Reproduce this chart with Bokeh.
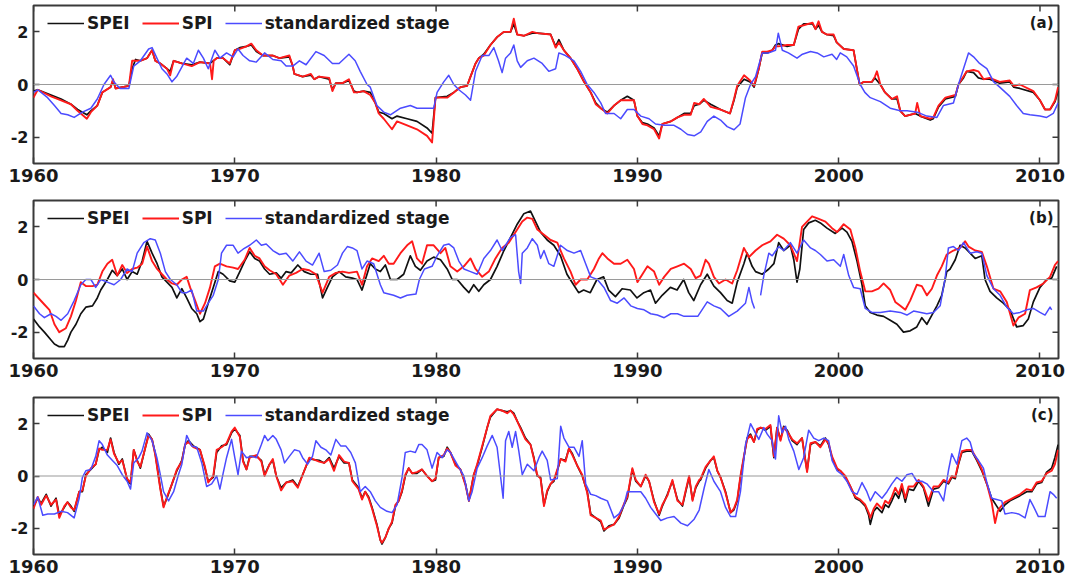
import numpy as np
from bokeh.plotting import figure
from bokeh.models import (Range1d, Span, Legend, LegendItem,
                          FixedTicker, Label, ColumnDataSource)
from bokeh.layouts import column
from bokeh.embed import file_html
from bokeh.resources import INLINE

NAN = float("nan")

# ---- axis ticks -----------------------------------------------------------
X_TICKS = [1960, 1970, 1980, 1990, 2000, 2010]
Y_TICKS = [-2, 0, 2]
X_START, X_END = 1960.0, 2010.92
Y_START, Y_END = -3.0, 3.0

# ---- panel (a): (decimal year, index value) -------------------------------
A_SPEI = [(1960.00,-0.25),(1960.21,-0.20),(1960.87,-0.40),(1961.37,-0.55),(1961.86,-0.75),(1962.19,-0.95),(1962.65,-1.15),(1962.85,-1.00),(1963.17,-0.80),(1963.42,-0.30),(1963.83,-0.10),(1963.95,0.15),(1964.08,-0.15),(1964.74,-0.05),(1964.90,0.60),(1965.07,0.95),(1965.31,0.90),(1965.64,1.00),(1965.89,1.30),(1966.05,0.90),(1966.30,0.80),(1966.63,0.60),(1966.79,0.50),(1966.96,0.90),(1967.37,0.80),(1967.86,0.75),(1968.27,0.85),(1968.77,0.80),(1969.10,1.00),(1969.42,1.00),(1969.75,0.75),(1970.00,1.30),(1970.25,1.40),(1970.58,1.45),(1970.82,1.50),(1971.07,1.25),(1971.40,1.10),(1971.89,1.10),(1972.22,1.00),(1972.71,1.05),(1972.88,0.70),(1972.96,0.40),(1973.37,0.30),(1973.78,0.35),(1973.95,0.20),(1974.19,0.30),(1974.69,0.20),(1974.85,-0.20),(1975.02,0.05),(1975.35,0.05),(1975.67,0.15),(1975.92,-0.25),(1976.07,-0.30),(1976.40,-0.25),(1976.73,-0.30),(1976.98,-0.70),(1977.15,-1.05),(1977.40,-1.10),(1977.81,-1.30),(1978.06,-1.20),(1978.56,-1.30),(1979.05,-1.40),(1979.55,-1.65),(1979.80,-1.85),(1979.97,-0.50),(1980.55,-0.45),(1980.88,-0.30),(1981.21,-0.10),(1981.54,-0.05),(1981.71,0.30),(1981.96,0.80),(1982.12,1.00),(1982.37,1.15),(1982.70,1.50),(1983.03,1.80),(1983.37,2.00),(1983.70,2.00),(1983.86,2.30),(1984.03,1.90),(1984.36,1.85),(1984.78,1.95),(1985.02,1.95),(1985.69,1.90),(1985.94,1.45),(1986.10,1.70),(1986.35,1.30),(1986.68,1.00),(1987.01,0.60),(1987.35,0.10),(1987.68,-0.30),(1987.93,-0.70),(1988.18,-0.90),(1988.51,-1.05),(1988.84,-0.80),(1989.17,-0.60),(1989.50,-0.45),(1989.83,-0.60),(1990.00,-1.20),(1990.25,-1.45),(1990.50,-1.50),(1990.83,-1.65),(1991.08,-1.95),(1991.24,-1.50),(1991.66,-1.40),(1991.99,-1.25),(1992.32,-1.10),(1992.65,-1.10),(1992.82,-0.80),(1993.07,-0.75),(1993.30,-0.60),(1993.64,-0.75),(1994.13,-0.95),(1994.60,-1.10),(1994.80,-0.60),(1994.96,-0.10),(1995.30,0.20),(1995.60,0.10),(1995.80,-0.10),(1996.03,0.60),(1996.20,1.20),(1996.45,1.20),(1996.70,1.30),(1996.86,1.50),(1997.00,1.55),(1997.44,1.45),(1997.77,1.50),(1998.00,2.10),(1998.26,2.30),(1998.70,2.30),(1998.85,2.10),(1999.00,2.25),(1999.17,2.00),(1999.40,1.90),(1999.75,1.85),(1999.90,1.60),(2000.25,1.35),(2000.74,1.30),(2000.90,0.60),(2001.04,0.00),(2001.24,0.10),(2001.65,0.10),(2001.80,0.25),(2002.07,0.00),(2002.30,-0.30),(2002.64,-0.55),(2002.90,-0.55),(2003.06,-1.00),(2003.30,-1.20),(2003.80,-1.10),(2004.05,-1.20),(2004.55,-1.35),(2004.70,-1.30),(2004.96,-0.85),(2005.30,-0.55),(2005.80,-0.45),(2005.95,0.00),(2006.20,0.25),(2006.36,0.50),(2006.70,0.45),(2006.94,0.25),(2007.20,0.20),(2007.50,0.20),(2008.00,0.05),(2008.50,0.10),(2008.70,-0.10),(2009.00,-0.15),(2009.67,-0.30),(2010.00,-0.60),(2010.25,-0.95),(2010.50,-0.95),(2010.75,-0.65),(2010.90,-0.25)]

A_SPI = [(1960.00,-0.50),(1960.21,-0.20),(1960.87,-0.45),(1961.37,-0.60),(1961.86,-0.75),(1962.19,-1.00),(1962.65,-1.30),(1962.85,-1.05),(1963.17,-0.80),(1963.42,-0.30),(1963.83,-0.10),(1963.95,0.20),(1964.08,-0.15),(1964.74,-0.05),(1964.90,0.90),(1965.07,0.90),(1965.31,0.90),(1965.64,1.00),(1965.89,1.30),(1966.05,0.90),(1966.30,0.80),(1966.63,0.60),(1966.79,0.35),(1966.96,0.90),(1967.37,0.80),(1967.86,0.70),(1968.27,0.85),(1968.77,0.80),(1968.87,0.20),(1968.95,0.90),(1969.10,1.00),(1969.42,1.00),(1969.75,0.80),(1970.00,1.30),(1970.25,1.35),(1970.58,1.45),(1970.82,1.55),(1971.07,1.30),(1971.40,1.10),(1971.89,1.10),(1972.22,1.00),(1972.71,1.10),(1972.88,0.70),(1972.96,0.40),(1973.37,0.30),(1973.78,0.40),(1973.95,0.20),(1974.19,0.30),(1974.69,0.25),(1974.85,-0.25),(1975.02,0.05),(1975.35,0.05),(1975.67,0.20),(1975.92,-0.30),(1976.07,-0.30),(1976.40,-0.25),(1976.73,-0.40),(1976.98,-0.70),(1977.15,-1.10),(1977.40,-1.30),(1977.81,-1.70),(1978.06,-1.40),(1978.56,-1.55),(1979.05,-1.70),(1979.55,-1.95),(1979.80,-2.20),(1979.97,-0.50),(1980.55,-0.50),(1980.88,-0.30),(1981.21,-0.10),(1981.54,-0.05),(1981.71,0.30),(1981.96,0.80),(1982.12,1.00),(1982.37,1.10),(1982.70,1.50),(1983.03,1.80),(1983.37,2.00),(1983.70,2.00),(1983.86,2.50),(1984.03,1.90),(1984.36,1.85),(1984.78,2.00),(1985.02,1.95),(1985.69,1.90),(1985.94,1.40),(1986.10,1.60),(1986.35,1.30),(1986.68,1.00),(1987.01,0.60),(1987.35,0.10),(1987.68,-0.30),(1987.93,-0.75),(1988.18,-0.90),(1988.51,-1.10),(1988.84,-0.80),(1989.17,-0.60),(1989.50,-0.60),(1989.83,-0.60),(1990.00,-1.20),(1990.25,-1.50),(1990.50,-1.55),(1990.83,-1.70),(1991.08,-2.05),(1991.24,-1.50),(1991.66,-1.40),(1991.99,-1.25),(1992.32,-1.15),(1992.65,-1.15),(1992.82,-0.70),(1993.07,-0.75),(1993.30,-0.55),(1993.64,-0.85),(1994.13,-0.95),(1994.60,-1.10),(1994.80,-0.55),(1994.96,-0.05),(1995.30,0.35),(1995.60,0.15),(1995.80,-0.05),(1996.03,0.60),(1996.20,1.25),(1996.45,1.25),(1996.70,1.30),(1996.86,1.45),(1997.00,1.45),(1997.44,1.50),(1997.77,1.50),(1998.00,2.20),(1998.26,2.25),(1998.70,2.35),(1998.85,2.10),(1999.00,2.40),(1999.17,2.00),(1999.40,1.90),(1999.75,1.90),(1999.90,1.60),(2000.25,1.35),(2000.74,1.30),(2000.90,0.60),(2001.04,0.00),(2001.24,0.10),(2001.65,0.10),(2001.80,0.30),(2001.90,0.50),(2002.07,0.00),(2002.30,-0.30),(2002.64,-0.55),(2002.90,-0.45),(2003.06,-1.00),(2003.30,-1.20),(2003.80,-1.10),(2003.90,-0.70),(2004.05,-1.20),(2004.55,-1.30),(2004.70,-1.25),(2004.96,-0.80),(2005.30,-0.50),(2005.80,-0.40),(2005.95,0.00),(2006.20,0.30),(2006.36,0.50),(2006.70,0.55),(2006.94,0.50),(2007.20,0.20),(2007.50,0.25),(2008.00,0.10),(2008.50,0.15),(2008.70,-0.05),(2009.00,0.00),(2009.67,-0.25),(2010.00,-0.60),(2010.25,-0.95),(2010.50,-0.95),(2010.75,-0.60),(2010.90,-0.10)]

A_STAGE = [(1960.00,-0.30),(1960.21,-0.20),(1960.70,-0.50),(1961.04,-0.80),(1961.37,-1.10),(1961.70,-1.15),(1962.02,-1.25),(1962.43,-1.05),(1962.85,-0.90),(1963.17,-0.55),(1963.50,0.00),(1963.83,0.35),(1963.99,0.10),(1964.30,-0.15),(1964.74,-0.15),(1964.98,0.70),(1965.31,0.90),(1965.72,1.35),(1965.89,1.40),(1966.13,1.00),(1966.38,0.60),(1966.63,0.40),(1966.88,0.10),(1967.11,0.30),(1967.61,1.00),(1967.94,0.80),(1968.19,1.30),(1968.44,1.00),(1968.68,0.60),(1969.01,1.30),(1969.26,1.00),(1969.59,1.20),(1969.92,1.05),(1970.16,1.35),(1970.41,1.10),(1970.74,0.90),(1971.07,0.85),(1971.48,1.20),(1971.89,0.95),(1972.30,0.90),(1972.55,0.70),(1972.88,0.70),(1973.21,0.90),(1973.54,0.75),(1974.03,1.25),(1974.44,1.10),(1974.85,0.80),(1975.18,0.80),(1975.67,1.15),(1975.98,0.90),(1976.23,0.50),(1976.57,0.00),(1976.73,-0.10),(1977.06,-0.80),(1977.40,-1.05),(1977.73,-1.15),(1978.23,-0.90),(1978.72,-0.80),(1979.05,-0.90),(1979.88,-0.90),(1980.05,-0.30),(1980.38,0.10),(1980.63,0.35),(1980.88,0.00),(1981.13,-0.20),(1981.46,-0.40),(1981.71,-0.60),(1981.96,0.50),(1982.29,1.10),(1982.62,1.10),(1982.87,1.40),(1983.10,0.90),(1983.28,0.45),(1983.45,1.00),(1983.70,1.20),(1983.86,1.50),(1984.03,0.90),(1984.20,0.65),(1984.53,0.90),(1984.86,1.00),(1985.27,0.80),(1985.60,0.50),(1985.94,0.60),(1986.10,1.20),(1986.43,1.10),(1986.85,0.90),(1987.18,0.50),(1987.51,0.00),(1987.84,-0.30),(1988.18,-0.70),(1988.42,-1.10),(1988.84,-1.10),(1989.17,-1.30),(1989.50,-0.95),(1989.83,-0.95),(1990.17,-1.20),(1990.58,-1.30),(1990.90,-1.50),(1991.33,-1.55),(1991.82,-1.55),(1992.16,-1.70),(1992.49,-1.90),(1992.82,-1.95),(1993.15,-1.80),(1993.47,-1.40),(1993.80,-1.20),(1994.13,-1.35),(1994.46,-1.60),(1994.80,-1.72),(1995.10,-1.50),(1995.37,-0.50),(1995.62,0.00),(1995.87,0.30),(1996.20,1.20),(1996.53,1.20),(1996.86,1.30),(1997.00,1.95),(1997.20,1.30),(1997.50,1.20),(1997.93,1.00),(1998.20,1.15),(1998.60,1.25),(1998.93,1.20),(1999.26,1.05),(1999.67,1.15),(1999.90,0.95),(2000.08,1.20),(2000.40,1.05),(2000.74,0.70),(2001.07,0.00),(2001.30,-0.30),(2001.57,-0.50),(2002.07,-0.65),(2002.56,-0.90),(2003.06,-1.00),(2003.40,-1.00),(2003.90,-1.05),(2004.38,-1.20),(2004.88,-1.25),(2005.20,-0.80),(2005.70,-0.70),(2005.95,0.00),(2006.20,0.60),(2006.45,1.20),(2006.70,1.05),(2007.00,0.80),(2007.36,0.60),(2007.70,0.10),(2008.00,-0.10),(2008.50,-0.45),(2008.84,-0.80),(2009.17,-1.10),(2009.50,-1.15),(2010.00,-1.20),(2010.33,-1.25),(2010.66,-1.10),(2010.90,-0.70)]

# ---- panel (b) ------------------------------------------------------------
B_SPEI = [(1960.00,-1.50),(1960.30,-1.80),(1960.54,-2.00),(1960.87,-2.30),(1961.04,-2.45),(1961.28,-2.55),(1961.53,-2.55),(1961.70,-2.30),(1961.86,-2.00),(1962.11,-1.70),(1962.35,-1.30),(1962.60,-1.05),(1962.93,-1.00),(1963.17,-0.70),(1963.34,-0.40),(1963.67,0.00),(1963.91,0.35),(1964.16,0.15),(1964.41,0.40),(1964.65,0.00),(1964.90,0.30),(1965.15,0.20),(1965.40,0.70),(1965.64,1.45),(1965.89,1.00),(1966.14,0.60),(1966.38,0.10),(1966.63,-0.10),(1966.88,-0.30),(1967.12,-0.70),(1967.37,-0.35),(1967.61,-0.70),(1967.86,-1.10),(1968.11,-1.30),(1968.27,-1.60),(1968.44,-1.50),(1968.68,-0.90),(1968.93,-0.30),(1969.18,0.30),(1969.42,0.20),(1969.75,-0.05),(1970.00,-0.10),(1970.25,0.30),(1970.49,0.70),(1970.74,1.05),(1970.99,0.80),(1971.23,0.70),(1971.48,0.40),(1971.73,0.20),(1972.06,0.25),(1972.30,0.05),(1972.55,0.30),(1972.80,0.25),(1973.13,0.55),(1973.45,0.30),(1973.78,0.20),(1974.11,0.20),(1974.36,-0.70),(1974.60,-0.30),(1974.85,0.10),(1975.18,0.30),(1975.51,0.10),(1975.84,0.05),(1976.07,0.00),(1976.32,-0.40),(1976.57,0.20),(1976.73,0.60),(1976.98,0.40),(1977.23,0.30),(1977.48,0.55),(1977.73,0.00),(1978.06,0.00),(1978.39,0.20),(1978.72,0.90),(1978.97,0.50),(1979.22,0.35),(1979.55,0.70),(1979.88,0.85),(1980.22,0.75),(1980.55,0.40),(1980.80,0.00),(1981.05,0.00),(1981.38,-0.30),(1981.63,-0.50),(1981.87,-0.20),(1982.12,-0.45),(1982.37,-0.20),(1982.70,0.00),(1983.03,0.50),(1983.37,1.10),(1983.70,1.60),(1984.03,2.10),(1984.36,2.50),(1984.69,2.60),(1984.94,2.20),(1985.19,1.80),(1985.52,1.50),(1985.85,1.30),(1986.18,0.90),(1986.50,0.20),(1986.83,-0.20),(1987.08,-0.50),(1987.33,-0.40),(1987.66,-0.50),(1987.99,0.00),(1988.32,0.10),(1988.57,-0.40),(1988.91,-0.65),(1989.24,-0.35),(1989.65,-0.40),(1989.98,-0.70),(1990.32,-0.50),(1990.65,-0.40),(1990.90,-0.90),(1991.23,-0.60),(1991.64,-0.30),(1991.97,-0.40),(1992.30,0.00),(1992.55,-0.50),(1992.80,-0.80),(1993.14,-0.20),(1993.47,0.20),(1993.80,-0.25),(1994.13,-0.50),(1994.46,-0.80),(1994.71,-0.90),(1994.96,-0.10),(1995.29,0.60),(1995.45,1.00),(1995.70,0.50),(1995.87,0.30),(1996.20,0.20),(1996.53,0.40),(1996.78,0.60),(1997.02,1.40),(1997.27,1.10),(1997.60,1.30),(1997.77,0.75),(1997.93,-0.10),(1998.07,0.40),(1998.26,1.90),(1998.51,2.15),(1998.84,2.25),(1999.09,2.15),(1999.42,1.95),(1999.83,1.75),(2000.17,1.95),(2000.41,1.80),(2000.66,1.45),(2000.91,0.70),(2001.16,-0.20),(2001.32,-1.00),(2001.57,-1.25),(2001.90,-1.35),(2002.23,-1.40),(2002.56,-1.55),(2002.89,-1.70),(2003.22,-2.00),(2003.55,-1.95),(2003.88,-1.80),(2004.13,-1.45),(2004.38,-1.70),(2004.63,-1.35),(2004.88,-1.00),(2005.12,-0.60),(2005.37,0.30),(2005.54,0.40),(2005.79,0.75),(2006.03,1.30),(2006.28,1.20),(2006.53,1.00),(2006.78,0.80),(2007.11,0.90),(2007.27,0.00),(2007.52,-0.45),(2007.85,-0.70),(2008.18,-0.90),(2008.51,-1.15),(2008.84,-1.80),(2009.17,-1.75),(2009.42,-1.50),(2009.67,-0.85),(2010.00,-0.30),(2010.33,0.00),(2010.58,0.05),(2010.83,0.50)]

B_SPI = [(1960.00,-0.50),(1960.30,-0.75),(1960.54,-0.95),(1960.79,-1.15),(1961.04,-1.70),(1961.28,-2.00),(1961.61,-1.85),(1961.86,-1.40),(1962.11,-0.80),(1962.35,-0.10),(1962.60,-0.25),(1962.93,-0.25),(1963.17,-0.20),(1963.42,0.30),(1963.67,0.60),(1963.91,0.75),(1964.16,0.15),(1964.41,0.55),(1964.65,0.25),(1964.90,0.40),(1965.15,0.45),(1965.40,0.60),(1965.64,1.25),(1965.89,0.70),(1966.14,0.40),(1966.38,0.20),(1966.63,0.00),(1966.88,-0.15),(1967.12,-0.20),(1967.37,0.00),(1967.61,0.10),(1967.78,-0.30),(1968.03,-0.80),(1968.27,-1.30),(1968.52,-0.90),(1968.77,-0.30),(1969.01,0.50),(1969.26,0.60),(1969.59,0.50),(1969.92,0.45),(1970.16,0.40),(1970.49,0.75),(1970.74,1.20),(1970.99,0.90),(1971.23,0.80),(1971.48,0.50),(1971.73,0.35),(1972.06,0.20),(1972.39,-0.20),(1972.71,0.15),(1973.04,0.25),(1973.37,0.40),(1973.70,0.35),(1974.03,0.20),(1974.36,-0.50),(1974.69,0.10),(1975.02,0.25),(1975.35,0.30),(1975.67,0.25),(1976.07,0.30),(1976.32,-0.20),(1976.57,0.50),(1976.82,0.80),(1977.15,0.70),(1977.40,0.90),(1977.65,0.60),(1977.89,0.60),(1978.23,1.00),(1978.56,1.30),(1978.81,1.45),(1979.05,0.80),(1979.30,0.60),(1979.55,1.30),(1979.88,1.30),(1980.22,1.00),(1980.46,1.20),(1980.71,0.50),(1981.05,0.30),(1981.38,0.50),(1981.71,0.80),(1981.96,0.40),(1982.29,0.10),(1982.62,0.30),(1982.95,0.80),(1983.28,1.20),(1983.61,1.40),(1983.95,1.80),(1984.28,2.20),(1984.53,2.35),(1984.78,2.30),(1985.03,1.90),(1985.36,1.70),(1985.69,1.50),(1986.02,1.40),(1986.35,0.80),(1986.68,0.30),(1986.93,-0.20),(1987.18,0.00),(1987.51,0.00),(1987.84,0.40),(1988.09,0.80),(1988.26,1.00),(1988.51,0.80),(1988.84,0.60),(1989.17,0.60),(1989.50,0.75),(1989.83,0.40),(1990.00,-0.10),(1990.25,0.20),(1990.50,0.50),(1990.83,0.30),(1991.08,-0.20),(1991.33,0.10),(1991.66,0.40),(1991.99,0.50),(1992.32,0.60),(1992.65,0.40),(1992.90,0.05),(1993.14,0.15),(1993.39,0.75),(1993.55,0.60),(1993.80,0.10),(1994.05,-0.15),(1994.38,0.00),(1994.71,-0.15),(1994.96,0.35),(1995.29,1.20),(1995.54,0.85),(1995.87,1.10),(1996.20,1.30),(1996.61,1.45),(1996.94,1.70),(1997.27,1.55),(1997.60,1.30),(1997.93,0.70),(1998.18,2.00),(1998.43,2.20),(1998.68,2.40),(1999.01,2.30),(1999.34,2.20),(1999.67,1.95),(1999.92,1.80),(2000.25,2.10),(2000.58,1.90),(2000.83,1.20),(2001.07,0.30),(2001.32,-0.45),(2001.65,-0.45),(2001.98,-0.35),(2002.23,-0.15),(2002.56,-0.40),(2002.81,-0.85),(2003.06,-1.00),(2003.31,-1.15),(2003.55,-0.80),(2003.88,-0.20),(2004.13,-0.25),(2004.38,-0.60),(2004.63,-0.35),(2004.88,0.15),(2005.12,0.50),(2005.37,0.95),(2005.70,1.10),(2006.03,1.20),(2006.28,1.45),(2006.45,1.25),(2006.78,1.10),(2007.11,1.05),(2007.36,0.50),(2007.69,-0.35),(2008.02,-0.45),(2008.35,-0.85),(2008.68,-1.75),(2008.93,-1.45),(2009.26,-1.30),(2009.50,-0.40),(2009.83,-0.30),(2010.17,-0.15),(2010.50,0.10),(2010.74,0.55),(2010.90,0.70)]

B_STAGE = [(1960.00,-1.00),(1960.30,-1.30),(1960.54,-1.45),(1960.87,-1.30),(1961.12,-1.40),(1961.37,-1.55),(1961.70,-1.30),(1962.02,-0.80),(1962.35,-0.20),(1962.60,0.00),(1962.85,0.00),(1963.09,-0.30),(1963.34,0.00),(1963.67,-0.10),(1964.00,-0.20),(1964.33,0.00),(1964.65,0.40),(1964.90,0.30),(1965.15,1.00),(1965.48,1.40),(1965.80,1.55),(1966.05,1.50),(1966.30,1.00),(1966.55,0.30),(1966.80,0.00),(1967.12,-0.20),(1967.37,-0.50),(1967.61,-0.50),(1967.86,-0.40),(1968.11,-1.20),(1968.44,-1.20),(1968.68,-0.90),(1968.93,-0.60),(1969.18,0.00),(1969.34,1.00),(1969.59,1.30),(1969.92,1.30),(1970.16,1.00),(1970.41,1.15),(1970.74,1.30),(1971.07,1.50),(1971.32,1.30),(1971.56,1.35),(1971.89,1.10),(1972.22,0.95),(1972.55,1.00),(1972.88,0.70),(1973.21,1.05),(1973.54,0.70),(1973.86,0.55),(1974.19,1.00),(1974.44,0.30),(1974.77,0.35),(1975.10,0.55),(1975.35,1.00),(1975.59,1.25),(1975.84,1.20),(1976.07,1.10),(1976.32,0.40),(1976.57,0.70),(1976.90,0.60),(1977.23,-0.20),(1977.40,-0.50),(1977.89,-0.60),(1978.23,-0.70),(1978.56,-0.60),(1979.00,-0.55),(1979.17,0.00),(1979.42,0.40),(1979.80,0.50),(1980.05,0.90),(1980.38,1.30),(1980.63,1.35),(1980.88,1.20),(1981.13,0.70),(1981.38,0.40),(1981.71,0.30),(1982.04,0.20),(1982.37,0.80),(1982.70,1.10),(1983.03,1.50),(1983.28,1.10),(1983.45,1.30),(1983.70,1.60),(1983.95,1.70),(1984.10,0.30),(1984.20,-0.15),(1984.28,1.00),(1984.53,1.20),(1984.78,1.55),(1985.03,1.30),(1985.19,0.80),(1985.36,1.10),(1985.60,0.60),(1985.85,0.50),(1986.18,1.30),(1986.52,1.10),(1986.85,1.00),(1987.18,1.10),(1987.43,0.60),(1987.68,0.10),(1988.01,0.00),(1988.34,-0.30),(1988.67,-0.80),(1989.00,-0.90),(1989.34,-0.70),(1989.67,-1.00),(1990.00,-1.10),(1990.33,-1.15),(1990.66,-1.30),(1990.99,-1.35),(1991.33,-1.45),(1991.66,-1.30),(1991.99,-1.30),(1992.32,-1.40),(1992.65,-1.40),(1993.00,-1.40),(1993.47,-0.85),(1993.80,-1.00),(1994.13,-1.10),(1994.54,-1.40),(1994.96,-1.20),(1995.37,-0.90),(1995.54,-0.30),(1995.70,-0.85),(1995.82,-1.10),(1995.97,NAN),(1996.12,-0.60),(1996.28,0.15),(1996.53,1.00),(1996.70,0.90),(1997.02,1.25),(1997.27,1.10),(1997.60,1.40),(1997.93,1.00),(1998.26,1.50),(1998.60,1.20),(1998.84,1.10),(1999.09,0.95),(1999.42,0.70),(1999.75,0.75),(2000.08,0.50),(2000.25,0.95),(2000.50,0.15),(2000.74,-0.30),(2001.07,-0.35),(2001.32,-1.10),(2001.65,-1.25),(2002.07,-1.25),(2002.56,-1.20),(2003.06,-1.25),(2003.39,-1.35),(2003.72,-1.20),(2004.38,-1.30),(2004.71,-1.25),(2005.04,-1.00),(2005.29,0.05),(2005.45,1.20),(2005.70,1.25),(2005.95,1.10),(2006.20,1.40),(2006.53,1.00),(2006.86,1.05),(2007.11,1.00),(2007.36,0.15),(2007.69,-0.35),(2008.02,-0.60),(2008.35,-1.05),(2008.68,-1.30),(2009.01,-1.25),(2009.34,-1.15),(2009.67,-1.10),(2010.00,-1.25),(2010.25,-1.35),(2010.50,-1.05),(2010.58,-1.15)]

# ---- panel (c) ------------------------------------------------------------
C_SPEI = [(1960.00,-1.15),(1960.21,-0.85),(1960.38,-1.05),(1960.63,-0.70),(1960.87,-1.15),(1961.12,-0.85),(1961.28,-1.50),(1961.53,-1.20),(1961.69,-1.00),(1961.86,-1.15),(1962.02,-1.35),(1962.27,-0.60),(1962.43,-0.60),(1962.60,0.05),(1962.85,0.25),(1963.09,0.45),(1963.26,1.00),(1963.42,1.10),(1963.67,0.90),(1963.83,1.45),(1964.00,0.90),(1964.24,0.45),(1964.41,0.65),(1964.65,-0.15),(1964.82,-0.30),(1964.98,1.00),(1965.15,0.60),(1965.31,0.30),(1965.56,1.10),(1965.72,1.60),(1965.89,1.40),(1966.05,0.85),(1966.30,-0.45),(1966.46,-1.15),(1966.63,-0.85),(1966.88,-0.30),(1967.12,0.20),(1967.37,0.60),(1967.53,1.20),(1967.70,1.35),(1967.94,1.15),(1968.27,1.00),(1968.52,0.30),(1968.68,-0.20),(1968.93,-0.05),(1969.10,0.90),(1969.34,1.15),(1969.59,1.20),(1969.84,1.65),(1970.00,1.80),(1970.25,1.55),(1970.41,0.60),(1970.58,0.25),(1970.74,0.75),(1971.07,0.75),(1971.32,0.60),(1971.48,0.05),(1971.73,0.45),(1971.89,0.60),(1972.06,0.00),(1972.30,-0.45),(1972.55,-0.25),(1972.88,-0.15),(1973.13,-0.40),(1973.45,0.20),(1973.70,0.65),(1974.19,0.60),(1974.44,0.50),(1974.69,0.70),(1974.93,0.30),(1975.18,0.75),(1975.43,0.50),(1975.67,0.50),(1975.84,-0.15),(1976.15,-0.45),(1976.32,-0.85),(1976.48,-0.60),(1976.65,-0.80),(1976.82,-1.20),(1977.06,-1.85),(1977.23,-2.45),(1977.31,-2.60),(1977.48,-2.35),(1977.65,-2.00),(1977.81,-1.80),(1977.98,-1.15),(1978.14,-0.95),(1978.31,-0.60),(1978.47,0.00),(1978.64,0.30),(1978.81,0.10),(1979.05,0.10),(1979.30,0.25),(1979.55,0.00),(1979.80,-0.20),(1979.97,-0.15),(1980.13,0.70),(1980.38,0.75),(1980.55,1.10),(1980.71,0.90),(1980.96,0.45),(1981.21,0.25),(1981.46,-0.30),(1981.63,-0.95),(1981.87,0.05),(1982.04,0.40),(1982.29,1.10),(1982.54,1.85),(1982.70,2.25),(1983.03,2.55),(1983.28,2.50),(1983.53,2.45),(1983.70,2.50),(1983.86,2.40),(1984.03,2.10),(1984.20,1.85),(1984.44,1.45),(1984.69,1.20),(1984.86,0.70),(1985.02,0.00),(1985.19,-0.05),(1985.36,-1.10),(1985.52,-0.60),(1985.69,-0.30),(1985.85,-0.20),(1986.02,0.20),(1986.19,0.65),(1986.43,0.60),(1986.60,1.05),(1986.77,0.85),(1987.01,0.40),(1987.26,0.00),(1987.51,-0.60),(1987.68,-1.45),(1987.93,-1.60),(1988.18,-1.75),(1988.34,-2.10),(1988.59,-1.90),(1988.84,-1.85),(1989.09,-1.60),(1989.34,-1.10),(1989.50,-0.85),(1989.75,0.25),(1989.92,-0.20),(1990.17,-0.40),(1990.41,0.00),(1990.58,-0.20),(1990.83,-0.95),(1991.08,-1.50),(1991.24,-1.15),(1991.49,-0.70),(1991.74,-0.20),(1991.99,-0.90),(1992.24,-1.15),(1992.40,-0.60),(1992.57,-0.05),(1992.74,-0.90),(1992.90,-0.45),(1993.07,-0.20),(1993.14,-0.15),(1993.39,0.30),(1993.64,0.60),(1993.80,0.70),(1993.97,0.20),(1994.13,-0.05),(1994.38,-0.60),(1994.63,-1.40),(1994.79,-1.30),(1994.96,-0.95),(1995.12,-0.05),(1995.29,0.70),(1995.45,1.45),(1995.62,1.60),(1995.79,1.30),(1995.95,1.75),(1996.12,1.85),(1996.36,1.75),(1996.61,1.90),(1996.78,0.70),(1996.94,1.85),(1997.11,1.40),(1997.27,1.90),(1997.44,1.75),(1997.69,1.35),(1997.93,1.20),(1998.18,1.45),(1998.43,0.20),(1998.60,1.20),(1998.84,1.30),(1999.09,1.15),(1999.34,1.45),(1999.50,1.20),(1999.67,0.70),(1999.92,0.25),(2000.08,0.20),(2000.33,-0.05),(2000.58,-0.40),(2000.83,-0.85),(2001.07,-0.95),(2001.32,-1.15),(2001.49,-1.50),(2001.57,-1.85),(2001.74,-1.35),(2001.90,-1.20),(2002.15,-1.40),(2002.31,-1.10),(2002.48,-1.20),(2002.64,-0.95),(2002.81,-0.65),(2002.98,-0.85),(2003.14,-0.45),(2003.31,-1.00),(2003.47,-0.50),(2003.72,-0.55),(2003.97,-0.20),(2004.21,-0.45),(2004.46,-1.15),(2004.71,-0.50),(2004.96,-0.45),(2005.21,-0.20),(2005.45,-0.30),(2005.62,-0.05),(2005.79,-0.10),(2005.95,0.45),(2006.12,0.90),(2006.36,0.95),(2006.61,0.95),(2006.86,0.60),(2007.11,0.20),(2007.36,-0.30),(2007.60,-0.85),(2007.85,-1.15),(2008.02,-1.35),(2008.26,-1.10),(2008.51,-0.95),(2008.76,-0.85),(2009.01,-0.75),(2009.34,-0.60),(2009.59,-0.60),(2009.83,-0.30),(2010.08,-0.25),(2010.33,0.15),(2010.58,0.30),(2010.74,0.70),(2010.90,1.20)]

C_SPI = [(1960.00,-1.25),(1960.21,-0.80),(1960.38,-1.10),(1960.63,-0.75),(1960.87,-1.10),(1961.12,-0.90),(1961.28,-1.60),(1961.53,-1.15),(1961.69,-1.00),(1961.86,-1.20),(1962.02,-1.30),(1962.27,-0.60),(1962.43,-0.55),(1962.60,0.00),(1962.85,0.30),(1963.09,0.45),(1963.26,1.05),(1963.42,1.00),(1963.67,1.00),(1963.83,1.40),(1964.00,0.85),(1964.24,0.50),(1964.41,0.60),(1964.65,-0.10),(1964.82,-0.25),(1964.98,1.00),(1965.15,0.55),(1965.31,0.35),(1965.56,1.10),(1965.72,1.55),(1965.89,1.40),(1966.05,0.80),(1966.30,-0.50),(1966.46,-1.20),(1966.63,-0.80),(1966.88,-0.30),(1967.12,0.25),(1967.37,0.55),(1967.53,1.20),(1967.70,1.30),(1967.94,1.10),(1968.27,1.00),(1968.52,0.35),(1968.68,-0.25),(1968.93,0.00),(1969.10,1.00),(1969.34,1.10),(1969.59,1.25),(1969.84,1.70),(1970.00,1.85),(1970.25,1.50),(1970.41,0.55),(1970.58,0.25),(1970.74,0.70),(1971.07,0.80),(1971.32,0.55),(1971.48,0.00),(1971.73,0.45),(1971.89,0.65),(1972.06,0.00),(1972.30,-0.55),(1972.55,-0.25),(1972.88,-0.20),(1973.13,-0.45),(1973.45,0.20),(1973.70,0.70),(1974.19,0.55),(1974.44,0.50),(1974.69,0.65),(1974.93,0.20),(1975.18,0.80),(1975.43,0.55),(1975.67,0.50),(1975.84,-0.20),(1976.15,-0.50),(1976.32,-0.90),(1976.48,-0.60),(1976.65,-0.85),(1976.82,-1.25),(1977.06,-1.90),(1977.23,-2.45),(1977.31,-2.55),(1977.48,-2.35),(1977.65,-2.00),(1977.81,-1.75),(1977.98,-1.10),(1978.14,-0.95),(1978.31,-0.55),(1978.47,0.05),(1978.64,0.30),(1978.81,0.10),(1979.05,0.15),(1979.30,0.25),(1979.55,0.00),(1979.80,-0.20),(1979.97,-0.10),(1980.13,0.70),(1980.38,0.80),(1980.55,1.05),(1980.71,0.90),(1980.96,0.40),(1981.21,0.25),(1981.46,-0.35),(1981.63,-0.95),(1981.87,0.05),(1982.04,0.45),(1982.29,1.15),(1982.54,1.85),(1982.70,2.30),(1983.03,2.55),(1983.28,2.50),(1983.53,2.40),(1983.70,2.50),(1983.86,2.35),(1984.03,2.10),(1984.20,1.80),(1984.44,1.40),(1984.69,1.20),(1984.86,0.65),(1985.02,0.05),(1985.19,-0.10),(1985.36,-1.15),(1985.52,-0.55),(1985.69,-0.30),(1985.85,-0.15),(1986.02,0.25),(1986.19,0.65),(1986.43,0.55),(1986.60,1.05),(1986.77,0.80),(1987.01,0.40),(1987.26,0.05),(1987.51,-0.65),(1987.68,-1.50),(1987.93,-1.60),(1988.18,-1.70),(1988.34,-2.05),(1988.59,-1.95),(1988.84,-1.85),(1989.09,-1.55),(1989.34,-1.05),(1989.50,-0.80),(1989.75,0.30),(1989.92,-0.15),(1990.17,-0.40),(1990.41,0.05),(1990.58,-0.20),(1990.83,-1.00),(1991.08,-1.45),(1991.24,-1.10),(1991.49,-0.75),(1991.74,-0.15),(1991.99,-0.95),(1992.24,-1.10),(1992.40,-0.55),(1992.57,0.00),(1992.74,-0.95),(1992.90,-0.40),(1993.07,-0.15),(1993.14,-0.10),(1993.39,0.35),(1993.64,0.60),(1993.80,0.75),(1993.97,0.20),(1994.13,-0.05),(1994.38,-0.65),(1994.63,-1.40),(1994.79,-1.25),(1994.96,-0.90),(1995.12,0.00),(1995.29,0.75),(1995.45,1.40),(1995.62,1.55),(1995.79,1.30),(1995.95,1.80),(1996.12,1.85),(1996.36,1.80),(1996.61,1.95),(1996.78,0.75),(1996.94,1.85),(1997.11,1.35),(1997.27,1.85),(1997.44,1.70),(1997.69,1.40),(1997.93,1.25),(1998.18,1.45),(1998.43,0.15),(1998.60,1.25),(1998.84,1.30),(1999.09,1.10),(1999.34,1.40),(1999.50,1.25),(1999.67,0.75),(1999.92,0.30),(2000.08,0.20),(2000.33,0.00),(2000.58,-0.40),(2000.83,-0.80),(2001.07,-0.90),(2001.32,-1.10),(2001.49,-1.40),(2001.57,-1.60),(2001.74,-1.25),(2001.90,-1.05),(2002.15,-1.25),(2002.31,-0.95),(2002.48,-1.05),(2002.64,-0.80),(2002.81,-0.45),(2002.98,-0.70),(2003.14,-0.30),(2003.31,-0.85),(2003.47,-0.40),(2003.72,-0.40),(2003.97,-0.15),(2004.21,-0.40),(2004.46,-0.95),(2004.71,-0.40),(2004.96,-0.40),(2005.21,-0.15),(2005.45,-0.25),(2005.62,0.00),(2005.79,-0.05),(2005.95,0.50),(2006.12,0.95),(2006.36,1.00),(2006.61,1.00),(2006.86,0.65),(2007.11,0.25),(2007.36,-0.30),(2007.60,-1.00),(2007.77,-1.80),(2007.90,-1.35),(2008.02,-1.20),(2008.26,-1.00),(2008.51,-0.90),(2008.76,-0.80),(2009.01,-0.70),(2009.34,-0.50),(2009.59,-0.55),(2009.83,-0.25),(2010.08,-0.20),(2010.33,0.10),(2010.58,0.20),(2010.74,0.45),(2010.90,1.00)]

C_STAGE = [(1960.00,-1.10),(1960.21,-0.80),(1960.46,-1.50),(1960.71,-1.45),(1961.04,-1.45),(1961.37,-1.35),(1961.69,-1.40),(1962.02,-1.60),(1962.27,-0.85),(1962.43,-0.05),(1962.60,0.20),(1962.85,0.25),(1963.09,0.75),(1963.26,1.35),(1963.42,1.20),(1963.67,0.80),(1963.91,0.60),(1964.16,0.40),(1964.41,0.05),(1964.65,-0.20),(1964.82,-0.50),(1964.98,0.50),(1965.23,0.70),(1965.39,0.95),(1965.64,1.65),(1965.89,1.35),(1966.13,0.70),(1966.30,0.05),(1966.46,-0.60),(1966.71,-0.95),(1966.96,-0.60),(1967.20,0.05),(1967.37,0.45),(1967.61,1.55),(1967.86,1.15),(1968.11,1.10),(1968.36,0.50),(1968.60,-0.40),(1968.85,-0.30),(1969.10,0.00),(1969.26,-0.50),(1969.42,0.10),(1969.59,0.70),(1969.84,1.40),(1970.00,0.70),(1970.16,0.05),(1970.33,0.95),(1970.58,0.70),(1970.82,0.75),(1971.07,0.70),(1971.32,1.20),(1971.48,1.55),(1971.64,1.35),(1971.89,1.55),(1972.06,1.40),(1972.30,1.00),(1972.47,0.50),(1972.71,0.75),(1972.96,1.00),(1973.21,0.95),(1973.37,0.70),(1973.62,0.45),(1973.86,0.75),(1974.03,1.35),(1974.28,1.10),(1974.52,1.00),(1974.77,0.80),(1975.02,1.40),(1975.26,1.15),(1975.51,1.15),(1975.76,0.90),(1975.99,0.50),(1976.23,-0.60),(1976.48,-0.40),(1976.73,-0.60),(1976.98,-0.95),(1977.23,-1.20),(1977.56,-1.35),(1977.81,-1.40),(1978.06,-1.10),(1978.31,-0.05),(1978.47,0.90),(1978.72,0.95),(1978.97,0.90),(1979.14,1.20),(1979.30,1.20),(1979.55,1.00),(1979.80,0.30),(1980.05,0.90),(1980.30,0.70),(1980.55,1.00),(1980.71,0.90),(1981.04,0.45),(1981.38,0.00),(1981.63,-0.95),(1981.79,-0.60),(1982.04,0.30),(1982.29,0.70),(1982.54,1.15),(1982.79,1.55),(1983.03,1.10),(1983.20,0.00),(1983.33,-0.85),(1983.45,1.35),(1983.61,1.70),(1983.78,1.10),(1983.95,1.70),(1984.11,0.95),(1984.28,0.05),(1984.53,0.45),(1984.86,0.20),(1985.11,0.70),(1985.27,0.95),(1985.52,0.60),(1985.69,-0.15),(1986.02,-0.10),(1986.19,1.90),(1986.35,1.45),(1986.60,1.10),(1986.85,1.10),(1987.10,0.75),(1987.26,1.35),(1987.43,-0.30),(1987.68,-0.70),(1987.93,-0.75),(1988.18,-0.85),(1988.51,-0.95),(1988.84,-1.60),(1989.09,-1.45),(1989.34,-1.10),(1989.50,-0.60),(1989.83,-0.60),(1990.17,-0.60),(1990.41,-0.85),(1990.66,-1.20),(1990.91,-1.45),(1991.16,-1.70),(1991.49,-1.60),(1991.82,-1.55),(1992.16,-1.80),(1992.49,-1.90),(1992.82,-1.65),(1993.07,-1.30),(1993.32,-0.45),(1993.55,0.25),(1993.80,-0.20),(1994.13,-0.60),(1994.38,-1.20),(1994.63,-1.55),(1994.88,-1.55),(1995.12,-0.60),(1995.37,1.20),(1995.62,2.00),(1995.79,1.75),(1996.03,1.40),(1996.28,1.85),(1996.45,1.60),(1996.69,1.35),(1996.86,0.65),(1997.02,2.30),(1997.19,1.65),(1997.36,1.90),(1997.52,1.40),(1997.77,0.95),(1998.02,0.25),(1998.26,0.70),(1998.51,1.75),(1998.76,1.45),(1999.01,1.35),(1999.26,1.45),(1999.50,1.35),(1999.67,0.60),(1999.92,0.20),(2000.17,0.05),(2000.41,-0.20),(2000.66,-0.60),(2000.91,-0.70),(2001.16,-0.25),(2001.40,-0.60),(2001.57,-0.95),(2001.82,-0.60),(2002.15,-0.85),(2002.40,-0.60),(2002.64,-0.30),(2002.89,-0.05),(2003.14,-0.20),(2003.39,0.05),(2003.64,0.10),(2003.88,-0.20),(2004.13,-0.20),(2004.38,-0.30),(2004.71,-0.60),(2004.96,-0.60),(2005.21,-0.95),(2005.45,0.20),(2005.62,0.85),(2005.87,0.45),(2006.12,1.35),(2006.36,1.45),(2006.53,1.30),(2006.69,0.85),(2006.94,0.60),(2007.19,0.30),(2007.36,-0.25),(2007.60,-0.85),(2007.85,-0.90),(2008.10,-0.95),(2008.26,-1.45),(2008.60,-1.40),(2008.93,-1.45),(2009.26,-1.60),(2009.50,-0.90),(2009.67,-1.15),(2009.92,-1.55),(2010.25,-1.55),(2010.50,-0.60),(2010.66,-0.70),(2010.83,-0.85)]

SERIES_NAMES = ["SPEI", "SPI", "standardized stage"]
PANEL_TAGS = ["(a)", "(b)", "(c)"]

# ---- styling ---------------------------------------------------------------
COLORS = ["#111111", "#ff1a1a", "#4b4bff"]
WIDTHS = [1.7, 1.9, 1.5]
FONT = "DejaVu Sans"
FRAME_W = 1025
TICK_PX = 6
AXIS_COLOR = "#3a3a3a"


def source(pairs):
    t, v = zip(*pairs)
    return ColumnDataSource(data=dict(t=np.array(t, dtype=float),
                                      v=np.array(v, dtype=float)))


def panel(series, tag, frame_h, top, bottom):
    p = figure(frame_width=FRAME_W, frame_height=frame_h,
               x_range=Range1d(X_START, X_END), y_range=Range1d(Y_START, Y_END),
               output_backend="svg", toolbar_location=None,
               min_border_left=33, min_border_right=19,
               min_border_top=top, min_border_bottom=bottom,
               background_fill_color="white", border_fill_color="white",
               outline_line_color=AXIS_COLOR, outline_line_width=2)
    p.grid.visible = False

    for ax, ticks, size in ((p.xaxis, X_TICKS, "18px"), (p.yaxis, Y_TICKS, "16px")):
        ax.ticker = FixedTicker(ticks=ticks)
        ax.axis_line_color = None
        ax.major_tick_in = TICK_PX
        ax.major_tick_out = 0
        ax.major_tick_line_color = AXIS_COLOR
        ax.major_tick_line_width = 1.5
        ax.minor_tick_line_color = None
        ax.major_label_text_font = FONT
        ax.major_label_text_font_style = "bold"
        ax.major_label_text_font_size = size
        ax.major_label_text_color = "#1a1a1a"
        ax.major_label_standoff = 5
    p.yaxis.major_label_overrides = {-2: "-2", 0: "0", 2: "2"}

    # mirrored inward ticks along the top and right edges of the frame
    dy = TICK_PX * (Y_END - Y_START) / frame_h
    dx = TICK_PX * (X_END - X_START) / FRAME_W
    p.segment(x0=X_TICKS, y0=[Y_END] * len(X_TICKS),
              x1=X_TICKS, y1=[Y_END - dy] * len(X_TICKS),
              line_color=AXIS_COLOR, line_width=1.5)
    p.segment(x0=[X_END] * len(Y_TICKS), y0=Y_TICKS,
              x1=[X_END - dx] * len(Y_TICKS), y1=Y_TICKS,
              line_color=AXIS_COLOR, line_width=1.5)

    p.add_layout(Span(location=0, dimension="width", line_color="#9a9a9a",
                      line_width=1.2))

    renderers = []
    for pairs, color, width in zip(series, COLORS, WIDTHS):
        r = p.line("t", "v", source=source(pairs), line_color=color,
                   line_width=width, line_join="round")
        renderers.append(r)

    legend = Legend(items=[LegendItem(label=name, renderers=[r])
                           for name, r in zip(SERIES_NAMES, renderers)],
                    orientation="horizontal", location=(14, frame_h - 28),
                    padding=0, margin=0, spacing=12, label_standoff=3,
                    glyph_width=37, glyph_height=20, label_height=20,
                    border_line_alpha=0, background_fill_alpha=0,
                    label_text_font=FONT, label_text_font_style="bold",
                    label_text_font_size="17px", label_text_color="#1a1a1a")
    p.add_layout(legend)

    p.add_layout(Label(x=X_END, y=Y_END, x_offset=-5, y_offset=-8, text=tag,
                       text_align="right", text_baseline="top",
                       text_font=FONT, text_font_style="bold",
                       text_font_size="15px", text_color="#1a1a1a"))
    return p


pa = panel([A_SPEI, A_SPI, A_STAGE], PANEL_TAGS[0], 158, 5, 33)
pb = panel([B_SPEI, B_SPI, B_STAGE], PANEL_TAGS[1], 158, 4, 34)
pc = panel([C_SPEI, C_SPI, C_STAGE], PANEL_TAGS[2], 157, 5, 32)

layout = column(pa, pb, pc, spacing=0)
open("out.html", "w").write(file_html(layout, INLINE))
